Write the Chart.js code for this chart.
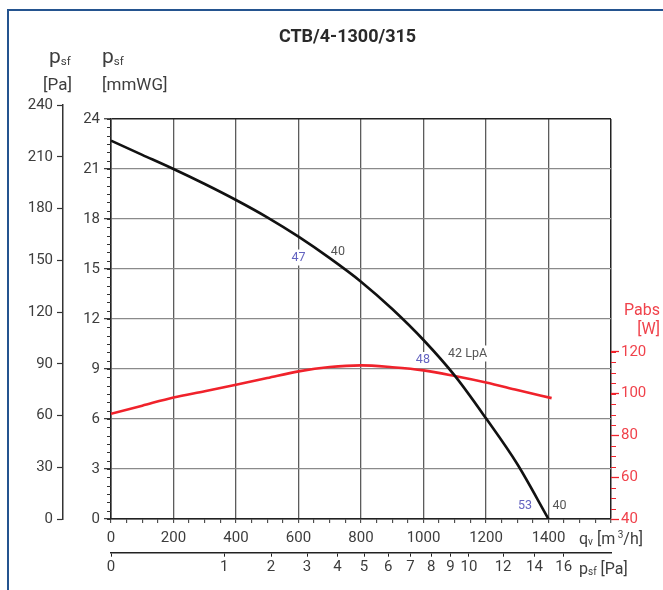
<!DOCTYPE html>
<html>
<head>
<meta charset="utf-8">
<script src="https://cdn.jsdelivr.net/npm/chart.js@4.4.0/dist/chart.umd.min.js"></script>
<style>
    html, body { margin: 0; padding: 0; background: #fff; overflow: hidden; }
    #wrap { position: relative; width: 663px; height: 590px; overflow: hidden; }
    #frame { position: absolute; left: 7px; top: 9px; width: 700px; height: 700px;
             border-left: 2px solid #24538f; border-top: 2px solid #24538f; }
    canvas { position: absolute; left: 0; top: 0; }
</style>
</head>
<body>
<div id="wrap"><div id="frame"></div><canvas id="chart" width="663" height="590"></canvas></div>
<script>
const FONT = "Roboto, 'Noto Sans', sans-serif";
const TEXT = '#3d3d3d';
const RED = '#f0222b';
const RED_TEXT = '#f0424b';
const TITLE = 'CTB/4-1300/315';

// fan curve: static pressure [mmWG] over airflow [m3/h]
const pressureQv = [0, 100, 200, 300, 400, 500, 600, 700, 800, 900, 1000, 1100, 1200, 1300, 1400];
const pressureMmwg = [22.7, 21.85, 21.0, 20.1, 19.14, 18.1, 16.94, 15.65, 14.24, 12.6, 10.74, 8.6, 6.04, 3.3, 0];

// absorbed power [W] over airflow [m3/h]
const powerQv = [0, 100, 200, 300, 400, 500, 600, 700, 800, 900, 1000, 1100, 1200, 1300, 1410];
const powerW = [90.4, 94.3, 98.2, 101.2, 104.3, 107.5, 110.7, 112.8, 113.6, 112.7, 111.2, 108.5, 105.4, 101.8, 97.9];

// sound level notes along the curve
const noteTexts = ['47', '40', '48', '42 LpA', '53', '40'];
const noteQv = [600, 726, 998, 1141, 1325, 1435];
const noteMmwg = [15.69, 16.05, 9.54, 9.93, 0.78, 0.78];
const noteIsBlue = [true, false, true, false, true, false];

// dynamic pressure scale below the airflow axis [Pa]
const dynPressureTicks = [0, 1, 2, 3, 4, 5, 6, 7, 8, 9, 10, 12, 14, 16];
const DUCT_D = 0.315;
const AIR_RHO = 1.2;

function qvAtPressure(p) {
    const area = Math.PI * DUCT_D * DUCT_D / 4;
    return 3600 * area * Math.sqrt(2 * p / AIR_RHO);
}

function steps(from, to, step) {
    const out = [];
    for (let v = from; v <= to + 1e-9; v += step) {
        out.push({ value: +v.toFixed(4) });
    }
    return out;
}

const tickFont = { family: FONT, size: 15 };

const minorTickSpec = {
    yMm: { step: 0.5, length: 4, color: '#333', to: 24 },
    yW: { step: 5, length: 5, color: RED, to: 120 }
};

function drawRich(ctx, x, y, parts) {
    parts.forEach(([text, size, dy]) => {
        ctx.font = `${size}px ${FONT}`;
        ctx.fillText(text, x, y + dy);
        x += ctx.measureText(text).width;
    });
}

const axisExtras = {
    id: 'axisExtras',
    afterLayout(chart) {
        // the Pa scale runs a little higher than the plot box
        const pa = chart.scales.yPa;
        pa.top = chart.chartArea.top - 14;
        pa.configure();
    },
    beforeDatasetsDraw(chart) {
        const { ctx } = chart;
        const xs = chart.scales.x;
        const ys = chart.scales.yMm;
        ctx.save();
        ctx.font = `12.5px ${FONT}`;
        ctx.textAlign = 'center';
        ctx.textBaseline = 'middle';
        noteTexts.forEach((t, i) => {
            const x = xs.getPixelForValue(noteQv[i]);
            const y = ys.getPixelForValue(noteMmwg[i]);
            const w = ctx.measureText(t).width + 4;
            ctx.fillStyle = '#fff';
            ctx.fillRect(x - w / 2, y - 8, w, 16);
            ctx.fillStyle = noteIsBlue[i] ? '#6363c0' : '#555';
            ctx.fillText(t, x, y);
        });
        ctx.restore();
    },
    afterDraw(chart) {
        const { ctx } = chart;
        ctx.save();
        ctx.lineWidth = 1;
        Object.entries(minorTickSpec).forEach(([id, spec]) => {
            const s = chart.scales[id];
            ctx.strokeStyle = spec.color;
            ctx.beginPath();
            for (let v = s.min; v <= spec.to + 1e-9; v += spec.step) {
                const p = Math.round(s.getPixelForValue(v)) + 0.5;
                if (s.position === 'left') {
                    ctx.moveTo(s.right, p);
                    ctx.lineTo(s.right - spec.length, p);
                } else {
                    ctx.moveTo(s.left, p);
                    ctx.lineTo(s.left + spec.length, p);
                }
            }
            ctx.stroke();
        });

        const area = chart.chartArea;
        const xs = chart.scales.x;
        const xp = chart.scales.xPsf;
        const pa = chart.scales.yPa;
        const mm = chart.scales.yMm;

        ctx.fillStyle = '#2a2a2a';
        ctx.textAlign = 'center';
        ctx.textBaseline = 'middle';
        ctx.font = `bold 18px ${FONT}`;
        ctx.fillText(TITLE, 347.5, 37);

        ctx.fillStyle = TEXT;
        ctx.textAlign = 'left';
        ctx.textBaseline = 'alphabetic';
        drawRich(ctx, pa.right - 14, 63, [['p', 21, 0], ['sf', 11.5, 2]]);
        drawRich(ctx, mm.left + 39, 63, [['p', 21, 0], ['sf', 11.5, 2]]);
        ctx.font = `17px ${FONT}`;
        ctx.textBaseline = 'middle';
        ctx.fillText('[Pa]', pa.right - 20, 86);
        ctx.fillText('[mmWG]', mm.left + 39, 86);

        ctx.textBaseline = 'alphabetic';
        drawRich(ctx, area.right - 32, xs.top + 24.5, [['q', 16, 0], ['v', 10, 1], [' [m', 16, 0], [' 3', 10, -6], ['/h]', 16, 0]]);
        drawRich(ctx, area.right - 32, xp.top + 21, [['p', 16, 0], ['sf', 10, 1], [' [Pa]', 16, 0]]);

        ctx.fillStyle = RED_TEXT;
        ctx.textAlign = 'right';
        ctx.textBaseline = 'middle';
        ctx.font = `16px ${FONT}`;
        ctx.fillText('Pabs', 660, 311);
        ctx.fillText('[W]', 660, 330);
        ctx.restore();
    }
};

new Chart(document.getElementById('chart'), {
    type: 'line',
    data: {
        datasets: [
            {
                label: 'psf',
                data: pressureQv.map((x, i) => ({ x, y: pressureMmwg[i] })),
                yAxisID: 'yMm',
                borderColor: '#111',
                borderWidth: 2.6,
                pointRadius: 0,
                cubicInterpolationMode: 'monotone'
            },
            {
                label: 'Pabs',
                data: powerQv.map((x, i) => ({ x, y: powerW[i] })),
                yAxisID: 'yW',
                borderColor: RED,
                borderWidth: 2.6,
                pointRadius: 0,
                cubicInterpolationMode: 'monotone'
            }
        ]
    },
    options: {
        responsive: false,
        animation: false,
        layout: { padding: { left: 10, right: 0, top: 119, bottom: 0 } },
        plugins: {
            legend: { display: false },
            tooltip: { enabled: false },
            title: { display: false }
        },
        scales: {
            x: {
                type: 'linear',
                position: 'bottom',
                weight: 0,
                min: 0,
                max: 1600,
                afterFit: (s) => { s.height = 33.7; },
                afterBuildTicks: (s) => { s.ticks = steps(0, 1600, 50); },
                ticks: {
                    autoSkip: false,
                    maxRotation: 0,
                    padding: 6,
                    color: TEXT,
                    font: tickFont,
                    callback: (v) => (v % 200 === 0 && v < 1600 ? String(v) : '')
                },
                grid: {
                    color: (c) => {
                        const v = c.tick ? c.tick.value : 0;
                        if (v === 0 || v === 1600) return '#222';
                        return v % 200 === 0 ? '#5c5c5c' : 'rgba(0,0,0,0)';
                    },
                    lineWidth: (c) => (c.tick && c.tick.value === 1600 ? 1.5 : 1.3),
                    tickLength: 4,
                    tickColor: '#333',
                    tickWidth: 1
                },
                border: { color: '#222', width: 1.5 }
            },
            xPsf: {
                type: 'linear',
                position: 'bottom',
                weight: 1,
                min: 0,
                max: 1600,
                afterFit: (s) => { s.height = 37.3; },
                afterBuildTicks: (s) => { s.ticks = dynPressureTicks.map((p) => ({ value: qvAtPressure(p) })); },
                ticks: {
                    autoSkip: false,
                    maxRotation: 0,
                    padding: 2,
                    color: TEXT,
                    font: tickFont,
                    callback: (v, i) => String(dynPressureTicks[i])
                },
                grid: { drawOnChartArea: false, tickLength: 4, tickColor: '#222', tickWidth: 1 },
                border: { color: '#222', width: 1.5 }
            },
            yMm: {
                type: 'linear',
                position: 'left',
                weight: 0,
                min: 0,
                max: 24,
                afterFit: (s) => { s.width = 48; },
                afterBuildTicks: (s) => { s.ticks = steps(0, 24, 3); },
                ticks: { padding: 4, color: TEXT, font: tickFont },
                grid: {
                    color: (c) => (c.tick && (c.tick.value === 24 || c.tick.value === 0) ? '#222' : '#8a8a8a'),
                    lineWidth: (c) => (c.tick && c.tick.value === 24 ? 1.5 : 1.3),
                    tickLength: 7,
                    tickColor: '#333',
                    tickWidth: 1.2
                },
                border: { color: '#222', width: 1.5 }
            },
            yPa: {
                type: 'linear',
                position: 'left',
                weight: 1,
                min: 0,
                max: 240,
                afterFit: (s) => { s.width = 53; },
                afterBuildTicks: (s) => { s.ticks = steps(0, 240, 30); },
                ticks: { padding: 4, color: TEXT, font: tickFont },
                grid: { drawOnChartArea: false, tickLength: 6, tickColor: '#333', tickWidth: 1.2 },
                border: { color: '#333', width: 1.5 }
            },
            yW: {
                type: 'linear',
                position: 'right',
                min: 40,
                max: 231.6,
                afterFit: (s) => { s.width = 52; },
                afterBuildTicks: (s) => { s.ticks = steps(40, 120, 20); },
                ticks: { padding: 2, color: RED_TEXT, font: tickFont },
                grid: { drawOnChartArea: false, tickLength: 8, tickColor: RED, tickWidth: 1.3 },
                border: { display: false }
            }
        }
    },
    plugins: [axisExtras]
});
</script>
</body>
</html>
